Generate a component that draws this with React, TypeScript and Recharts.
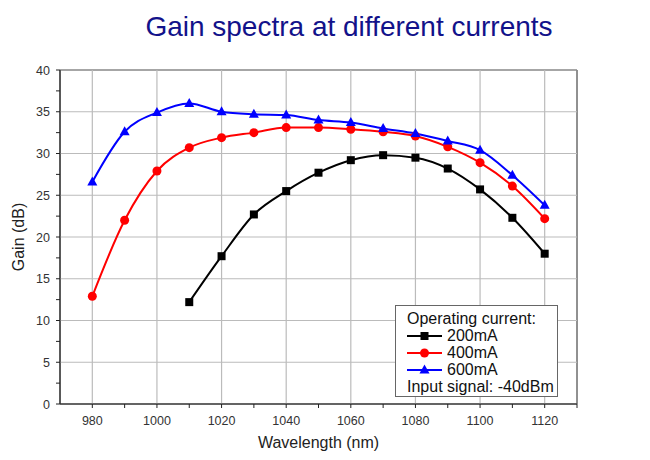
import React from "react";
import {
  LineChart,
  Line,
  XAxis,
  YAxis,
  ReferenceLine,
  ReferenceArea,
} from "recharts";

const wavelengths = [980, 990, 1000, 1010, 1020, 1030, 1040, 1050, 1060, 1070, 1080, 1090, 1100, 1110, 1120];
const gain200 = [null, null, null, 12.2, 17.7, 22.7, 25.5, 27.7, 29.2, 29.8, 29.5, 28.2, 25.7, 22.3, 18.0];
const gain400 = [12.9, 22.0, 27.9, 30.7, 31.9, 32.5, 33.1, 33.1, 32.9, 32.6, 32.1, 30.8, 28.9, 26.1, 22.2];
const gain600 = [26.6, 32.6, 34.9, 36.0, 35.0, 34.7, 34.6, 34.0, 33.7, 33.0, 32.4, 31.5, 30.4, 27.4, 23.8];

const xMajor = [980, 1000, 1020, 1040, 1060, 1080, 1100, 1120];
const xMinor = [980, 990, 1000, 1010, 1020, 1030, 1040, 1050, 1060, 1070, 1080, 1090, 1100, 1110, 1120, 1130];
const yMajor = [0, 5, 10, 15, 20, 25, 30, 35, 40];
const yMinor = [0, 2.5, 5, 7.5, 10, 12.5, 15, 17.5, 20, 22.5, 25, 27.5, 30, 32.5, 35, 37.5, 40];

const series = [
  { key: "g200", name: "200mA", color: "#000000", shape: "square" },
  { key: "g400", name: "400mA", color: "#ff0000", shape: "circle" },
  { key: "g600", name: "600mA", color: "#0000ff", shape: "triangle" },
];

const data = wavelengths.map((w, i) => ({
  w,
  g200: gain200[i],
  g400: gain400[i],
  g600: gain600[i],
}));

const font = "'Liberation Sans', Arial, sans-serif";

function Marker({ cx, cy, shape, color }: any) {
  if (cx == null || cy == null) return null;
  if (shape === "square") {
    return <rect x={cx - 4} y={cy - 4} width={8} height={8} fill={color} />;
  }
  if (shape === "circle") {
    return <circle cx={cx} cy={cy} r={4.5} fill={color} />;
  }
  return (
    <polygon
      points={`${cx},${cy - 5.5} ${cx - 5},${cy + 3.5} ${cx + 5},${cy + 3.5}`}
      fill={color}
    />
  );
}

function XTick({ x, y, payload }: any) {
  const v = payload.value;
  if (v % 20 !== 0) return null;
  return (
    <text x={x} y={y + 15} textAnchor="middle" fontSize={12.5} fill="#333" fontFamily={font}>
      {v}
    </text>
  );
}

function YTick({ x, y, payload }: any) {
  const v = payload.value;
  if (v % 5 !== 0) return null;
  return (
    <text x={x - 4} y={y + 4.5} textAnchor="end" fontSize={12.5} fill="#333" fontFamily={font}>
      {v}
    </text>
  );
}

function LegendBox() {
  return (
    <div
      style={{
        position: "absolute",
        left: 395,
        top: 305,
        width: 163,
        height: 92,
        boxSizing: "border-box",
        border: "1px solid #666",
        background: "#fff",
        padding: "4px 2px 2px 11px",
        fontFamily: font,
        fontSize: 16,
        lineHeight: "17px",
        color: "#111",
        whiteSpace: "nowrap",
      }}
    >
      <div>Operating current:</div>
      {series.map((s) => (
        <div key={s.key} style={{ display: "flex", alignItems: "center" }}>
          <svg width={35} height={14} style={{ marginRight: 5 }}>
            <line x1={0} y1={7} x2={35} y2={7} stroke={s.color} strokeWidth={2} />
            <Marker cx={17.5} cy={7} shape={s.shape} color={s.color} />
          </svg>
          <span>{s.name}</span>
        </div>
      ))}
      <div>Input signal: -40dBm</div>
    </div>
  );
}

export default function App() {
  return (
    <div style={{ position: "absolute", left: 0, top: 0, width: 650, height: 460, background: "#fff" }}>
      <div
        style={{
          position: "absolute",
          left: 0,
          top: 11,
          width: 698,
          textAlign: "center",
          fontFamily: font,
          fontSize: 28,
          color: "#12128a",
        }}
      >
        Gain spectra at different currents
      </div>
      <LineChart
        width={650}
        height={460}
        data={data}
        margin={{ top: 70, right: 73, bottom: 0, left: 0 }}
      >
        <XAxis
          dataKey="w"
          type="number"
          domain={[970, 1130]}
          ticks={xMinor}
          interval={0}
          tick={<XTick />}
          tickLine={{ stroke: "#222" }}
          tickSize={4}
          axisLine={{ stroke: "#222" }}
          height={56}
          label={{
            value: "Wavelength (nm)",
            position: "insideBottom",
            offset: 12,
            fontSize: 16,
            fill: "#222",
            fontFamily: font,
          }}
        />
        <YAxis
          type="number"
          domain={[0, 40]}
          ticks={yMinor}
          interval={0}
          tick={<YTick />}
          tickLine={{ stroke: "#222" }}
          tickSize={4}
          axisLine={{ stroke: "#222" }}
          width={60}
          label={{
            value: "Gain (dB)",
            angle: -90,
            position: "insideLeft",
            offset: 18,
            fontSize: 16,
            fill: "#222",
            fontFamily: font,
            style: { textAnchor: "middle" },
          }}
        />
        {xMajor.map((v) => (
          <ReferenceLine key={"x" + v} x={v} stroke="#bbb" strokeWidth={1.2} />
        ))}
        {yMajor.map((v) => (
          <ReferenceLine key={"y" + v} y={v} stroke="#bbb" strokeWidth={1.2} />
        ))}
        <ReferenceArea x1={970} x2={1130} y1={0} y2={40} fill="none" stroke="#222" strokeWidth={1} />
        {series.map((s) => (
          <Line
            key={s.key}
            type="monotone"
            dataKey={s.key}
            name={s.name}
            stroke={s.color}
            strokeWidth={2}
            isAnimationActive={false}
            dot={(p: any) => <Marker key={s.key + p.index} cx={p.cx} cy={p.cy} shape={s.shape} color={s.color} />}
            activeDot={false}
          />
        ))}
      </LineChart>
      <LegendBox />
    </div>
  );
}
